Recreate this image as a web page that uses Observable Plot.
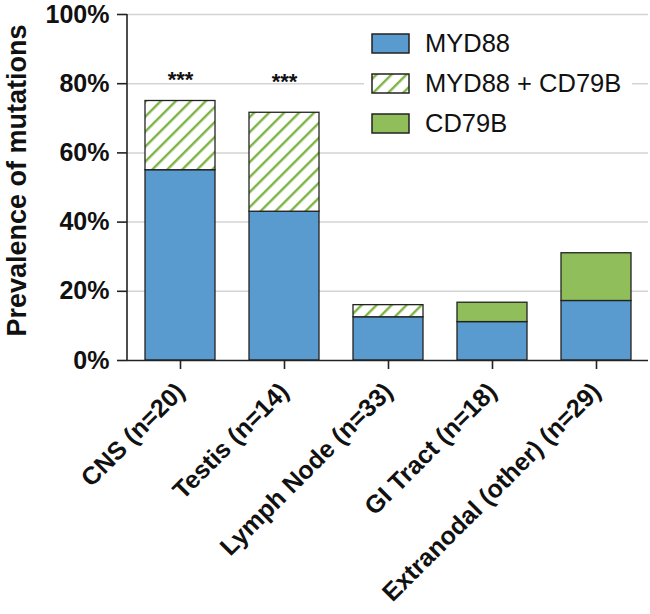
<!DOCTYPE html>
<html>
<head>
<meta charset="utf-8">
<script src="https://cdn.jsdelivr.net/npm/d3@7"></script>
<script src="https://cdn.jsdelivr.net/npm/@observablehq/plot@0.6"></script>
<style>
  body { margin: 0; background: #fff; }
  #wrap { position: relative; width: 650px; height: 614px; font-family: "Liberation Sans", Arial, sans-serif; }
  #legend { position: absolute; left: 364px; top: 22px; width: 268px; height: 118px; background: #fff; }
  .row { position: absolute; left: 7px; height: 20px; display: flex; align-items: center; }
  .row svg { display: block; }
  .row span { margin-left: 14px; font-size: 25.5px; color: #111; line-height: 20px; }
</style>
</head>
<body>
<div id="wrap"><div id="legend"></div></div>
<script>
const categories = ["CNS (n=20)", "Testis (n=14)", "Lymph Node (n=33)", "GI Tract (n=18)", "Extranodal (other) (n=29)"];
const series = ["MYD88", "MYD88 + CD79B", "CD79B"];
const myd88 = [55, 43, 12.5, 11.1, 17.2];
const both = [20, 28.6, 3.5, 0, 0];
const cd79b = [0, 0, 0, 5.6, 13.8];
const yTicks = [0, 20, 40, 60, 80, 100];
const yTitle = "Prevalence of mutations";
const starCats = ["CNS (n=20)", "Testis (n=14)"];
const starY = [81, 80.4];
const seriesFill = ["#5a9bcf", "url(#hatch)", "#8fbe5a"];

const values = [myd88, both, cd79b];
const data = [];
categories.forEach((c, i) => {
  series.forEach((s, j) => {
    if (values[j][i] > 0) data.push({cat: c, series: s, value: values[j][i], fill: seriesFill[j]});
  });
});
const stars = starCats.map((c, i) => ({cat: c, y: starY[i]}));

const font = "'Liberation Sans', Arial, sans-serif";

const yAxisLine = (index, scales, values, dimensions) => {
  const ns = "http://www.w3.org/2000/svg";
  const line = document.createElementNS(ns, "line");
  line.setAttribute("x1", dimensions.marginLeft);
  line.setAttribute("x2", dimensions.marginLeft);
  line.setAttribute("y1", scales.y(0));
  line.setAttribute("y2", scales.y(100));
  line.setAttribute("stroke", "#222");
  line.setAttribute("stroke-width", 1.6);
  return line;
};

const plot = Plot.plot({
  width: 650,
  height: 614,
  marginTop: 14,
  marginBottom: 254,
  marginLeft: 127,
  marginRight: 2,
  style: {fontFamily: font, background: "#fff", color: "#111"},
  x: {domain: categories, paddingInner: 0.33, paddingOuter: 0.165},
  y: {domain: [0, 100]},
  color: {type: "identity"},
  marks: [
    Plot.gridY(yTicks.filter(d => d > 0), {stroke: "#d4d4d4", strokeOpacity: 1, strokeWidth: 1.5}),
    Plot.barY(data, Plot.stackY({x: "cat", y: "value", fill: "fill", stroke: "#222", strokeWidth: 1.3, order: series})),
    Plot.text(stars, {x: "cat", y: "y", text: () => "***", fontSize: 22, fontWeight: "bold", fill: "#111"}),
    Plot.ruleY([0], {stroke: "#222", strokeWidth: 1.6}),
    yAxisLine,
    Plot.axisY({ticks: yTicks, tickFormat: d => d + "%", fontSize: 25, fontWeight: "bold", tickSize: 10, tickPadding: 8, stroke: "#222", strokeWidth: 1.6, label: null}),
    Plot.text([yTitle], {frameAnchor: "left", rotate: -90, dx: -110, dy: -7, fontSize: 27, fontWeight: "bold", fill: "#111", textAnchor: "middle", lineAnchor: "middle"}),
    Plot.axisX({tickRotate: -45, fontSize: 25, fontWeight: "bold", tickSize: 9, tickPadding: 18, stroke: "#222", strokeWidth: 1.6, label: null})
  ]
});

// hatch pattern
const svg = d3.select(plot);
const defs = svg.insert("defs", ":first-child");
function addHatch(defsSel, id) {
  const p = defsSel.append("pattern").attr("id", id).attr("patternUnits", "userSpaceOnUse")
    .attr("width", 10.6).attr("height", 10.6).attr("patternTransform", "rotate(45)");
  p.append("rect").attr("width", 10.6).attr("height", 10.6).attr("fill", "#fff");
  p.append("line").attr("x1", 5).attr("x2", 5).attr("y1", 0).attr("y2", 10.6).attr("stroke", "#7db446").attr("stroke-width", 2.4);
}
addHatch(defs, "hatch");

document.getElementById("wrap").prepend(plot);

// legend
const legend = d3.select("#legend");
series.forEach((s, j) => {
  const row = legend.append("div").attr("class", "row").style("top", (11 + j * 40) + "px");
  const sw = row.append("svg").attr("width", 40).attr("height", 21);
  if (j === 1) addHatch(sw.append("defs"), "hatchLegend");
  sw.append("rect").attr("x", 1).attr("y", 1).attr("width", 37).attr("height", 19)
    .attr("fill", j === 1 ? "url(#hatchLegend)" : seriesFill[j]).attr("stroke", "#222").attr("stroke-width", 1.5);
  row.append("span").text(s);
});
</script>
</body>
</html>
